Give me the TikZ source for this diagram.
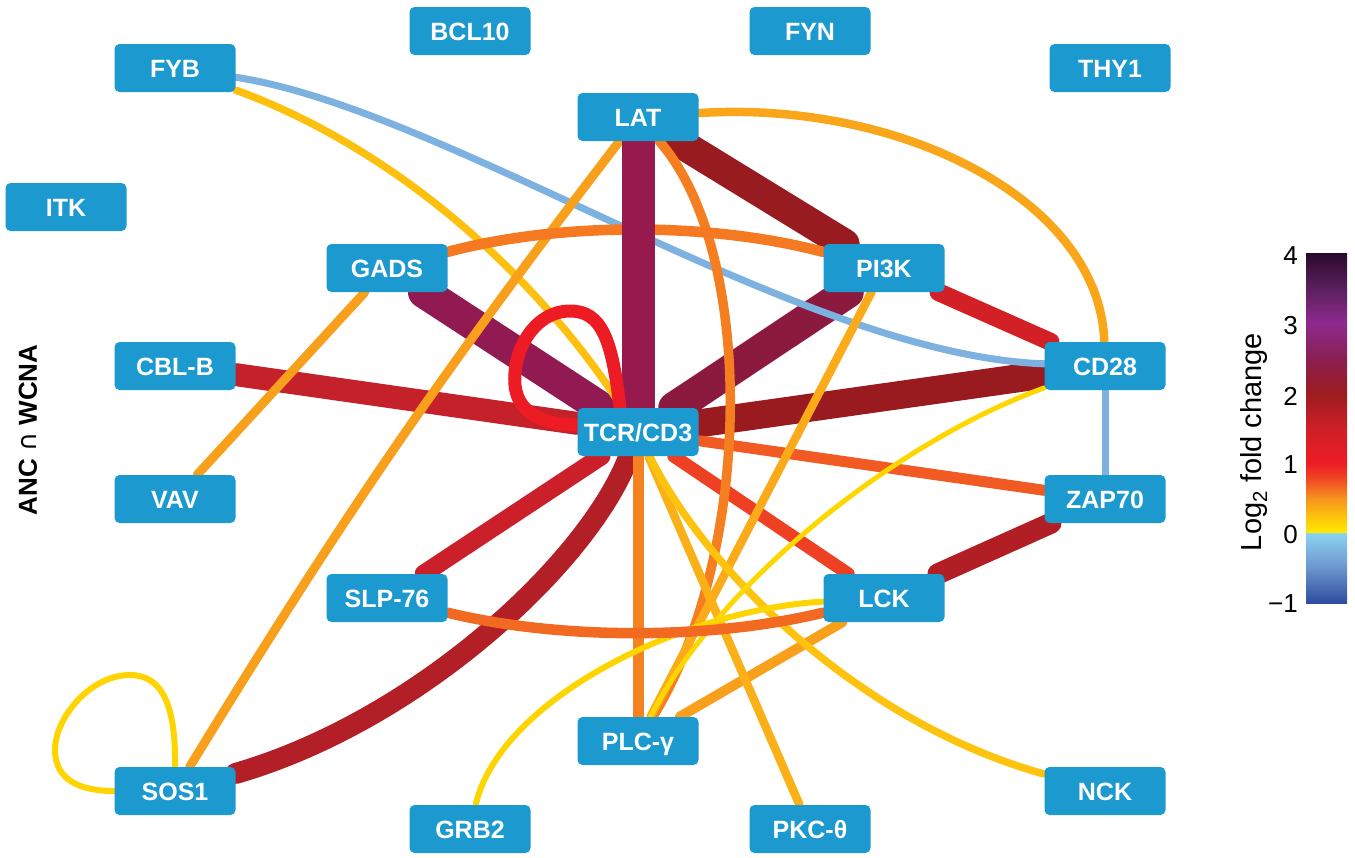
\documentclass[tikz,border=0pt]{standalone}
\usepackage{fontspec}
\setmainfont{Liberation Sans}
\newfontfamily\djv{DejaVu Sans}
\pgfdeclarelayer{bg}
\pgfsetlayers{bg,main}
\definecolor{nodeblue}{HTML}{1C9AD0}
\definecolor{cLATTCR}{HTML}{961A4E}
\definecolor{cGADSTCR}{HTML}{921A52}
\definecolor{cPIKTCR}{HTML}{8C1A3E}
\definecolor{cLATPIK}{HTML}{981B1F}
\definecolor{cCDTCR}{HTML}{9A1B1F}
\definecolor{cCBLB}{HTML}{C5212A}
\definecolor{cSOSTCR}{HTML}{B31F26}
\definecolor{cSLPTCR}{HTML}{CB2029}
\definecolor{cZAPLCK}{HTML}{B11F24}
\definecolor{cPIKCD}{HTML}{D32027}
\definecolor{cLOOP}{HTML}{ED1C24}
\definecolor{cTCRLCK}{HTML}{EE4023}
\definecolor{cTCRZAP}{HTML}{F15A22}
\definecolor{cGADSPIK}{HTML}{F47920}
\definecolor{cSLPLCK}{HTML}{F26A21}
\definecolor{cTCRPLC}{HTML}{F58220}
\definecolor{cLATPLC}{HTML}{F47E20}
\definecolor{cLATSOS}{HTML}{F8A01B}
\definecolor{cGADSVAV}{HTML}{F8A01B}
\definecolor{cLATCD}{HTML}{FAA61A}
\definecolor{cPIKPLC}{HTML}{FBAA19}
\definecolor{cLCKPLC}{HTML}{F8A01B}
\definecolor{cTCRPKC}{HTML}{FBB017}
\definecolor{cTCRNCK}{HTML}{FDC30F}
\definecolor{cFYBTCR}{HTML}{FDC00F}
\definecolor{cBLUE}{HTML}{7DB2E0}
\definecolor{cCDPLC}{HTML}{FFD700}
\definecolor{cLCKGRB}{HTML}{FFD500}
\definecolor{cSOSLOOP}{HTML}{FFD400}
% colour bar stops
\definecolor{cb1}{HTML}{2A0A2C}
\definecolor{cb2}{HTML}{5A1F5E}
\definecolor{cb3}{HTML}{8E2A8E}
\definecolor{cb4}{HTML}{8A1F52}
\definecolor{cb5}{HTML}{9C1C1F}
\definecolor{cb6}{HTML}{CE2027}
\definecolor{cb7}{HTML}{ED1C24}
\definecolor{cb8}{HTML}{F04E23}
\definecolor{cb9}{HTML}{F7941D}
\definecolor{cb10}{HTML}{FDC00F}
\definecolor{cb11}{HTML}{FFEA00}
\definecolor{cb12}{HTML}{8CD3F0}
\definecolor{cb13}{HTML}{6B95CC}
\definecolor{cb14}{HTML}{2E4C9E}
\begin{document}
\begin{tikzpicture}[x=1pt,y=-1pt,
  prot/.style={fill=nodeblue, rounded corners=5pt, minimum width=121pt,
    minimum height=48pt, inner sep=0pt, text=white, text height=18pt, text depth=0pt,
    font=\fontsize{25}{30}\selectfont\bfseries},
  e/.style={line cap=round},
  ticklab/.style={anchor=east, inner sep=0pt, font=\fontsize{26}{30}\selectfont}
]
\useasboundingbox (0,0) rectangle (1355,857);

% nodes
\node[prot] (fyb) at (175,68) {FYB};
\node[prot] (bcl) at (470,31) {BCL10};
\node[prot] (fyn) at (810,31) {FYN};
\node[prot] (thy) at (1110,68) {THY1};
\node[prot] (lat) at (638,117) {LAT};
\node[prot] (itk) at (66,207) {ITK};
\node[prot] (gads) at (387,268) {GADS};
\node[prot] (pik) at (884,268) {PI3K};
\node[prot] (cblb) at (175,366) {CBL-B};
\node[prot] (cd28) at (1105,366) {CD28};
\node[prot] (tcr) at (638,432) {TCR/CD3};
\node[prot] (vav) at (175,499) {VAV};
\node[prot] (zap) at (1105,499) {ZAP70};
\node[prot] (slp) at (387,598) {SLP-76};
\node[prot] (lck) at (884,598) {LCK};
\node[prot] (plc) at (638,741) {PLC-γ};
\node[prot] (sos) at (175,791) {SOS1};
\node[prot] (grb) at (470,829) {GRB2};
\node[prot] (pkc) at (810,829) {PKC-θ};
\node[prot] (nck) at (1105,791) {NCK};

\begin{pgfonlayer}{bg}
% thick bands
\draw[e, cSOSTCR, line width=21pt] (sos) .. controls (420,720) and (590,560) .. (tcr);
\draw[e, cCBLB, line width=23pt] (cblb) -- (tcr);
\draw[e, cSLPTCR, line width=18pt] (slp) -- (tcr);
\draw[e, cPIKCD, line width=18pt] (pik) -- (cd28);
\draw[e, cZAPLCK, line width=21pt] (zap) -- (lck);
\draw[e, cLATPIK, line width=30pt] (lat) -- (pik);
\draw[e, cPIKTCR, line width=32pt] (pik) -- (tcr);
\draw[e, cCDTCR, line width=28pt] (cd28) -- (tcr);
\draw[e, cGADSTCR, line width=32pt] (gads) -- (tcr);
\draw[e, cTCRLCK, line width=13pt] (tcr) -- (lck);
\draw[e, cTCRZAP, line width=11pt] (tcr) -- (zap);
% thinner links
\draw[e, cBLUE, line width=7pt] (fyb) .. controls (450,110) and (800,355) .. (cd28);
\draw[e, cFYBTCR, line width=7.5pt] (fyb) .. controls (400,150) and (540,280) .. (tcr);
\draw[e, cLATCD, line width=8.5pt] (lat) .. controls (900,100) and (1100,200) .. (cd28);
\draw[e, cLATSOS, line width=9pt] (lat) to[bend right=3] (sos);
\draw[e, cGADSVAV, line width=9pt] (gads) -- (vav);
\draw[e, cBLUE, line width=7pt] (cd28) -- (zap);
\draw[e, cTCRPLC, line width=11pt] (tcr) -- (plc);
\draw[e, cLATPLC, line width=9.5pt] (lat) .. controls (755,250) and (755,550) .. (plc);
\draw[e, cPIKPLC, line width=8.5pt] (pik) -- (plc);
\draw[e, cLCKPLC, line width=10pt] (lck) -- (plc);
\draw[e, cTCRPKC, line width=8.5pt] (tcr) -- (pkc);
\draw[e, cTCRNCK, line width=7.5pt] (tcr) .. controls (700,560) and (850,720) .. (nck);
\draw[e, cCDPLC, line width=5pt] (cd28) .. controls (900,440) and (720,580) .. (plc);
\draw[e, cLCKGRB, line width=6pt] (lck) .. controls (680,610) and (500,700) .. (grb);
\draw[e, cGADSPIK, line width=10.5pt] (gads) .. controls (560,222) and (710,222) .. (pik);
\draw[e, cSLPLCK, line width=10.5pt] (slp) .. controls (560,640) and (710,640) .. (lck);
% LAT - TCR/CD3 bar
\draw[e, cLATTCR, line width=33pt] (lat) -- (tcr);
% self loops
\draw[e, cLOOP, line width=13pt] ([xshift=-18pt]tcr.north) .. controls (612,340) and (602,311) .. (570,311)
  .. controls (535,311) and (512,350) .. (515,385) .. controls (518,417) and (550,425) .. ([yshift=7pt]tcr.west);
\draw[e, cSOSLOOP, line width=6pt] (sos.north) .. controls (176,705) and (162,675) .. (130,675)
  .. controls (90,675) and (55,718) .. (55,750) .. controls (55,780) and (80,791) .. (sos.west);
\end{pgfonlayer}

% colour bar
\shade[top color=cb1, bottom color=cb2] (1306,253) rectangle (1347,288.5);
\shade[top color=cb2, bottom color=cb3] (1306,288) rectangle (1347,323.5);
\shade[top color=cb3, bottom color=cb4] (1306,323) rectangle (1347,358.5);
\shade[top color=cb4, bottom color=cb5] (1306,358) rectangle (1347,393.5);
\shade[top color=cb5, bottom color=cb6] (1306,393) rectangle (1347,428.5);
\shade[top color=cb6, bottom color=cb7] (1306,428) rectangle (1347,463.5);
\shade[top color=cb7, bottom color=cb8] (1306,463) rectangle (1347,481);
\shade[top color=cb8, bottom color=cb9] (1306,480.5) rectangle (1347,498.5);
\shade[top color=cb9, bottom color=cb10] (1306,498) rectangle (1347,516);
\shade[top color=cb10, bottom color=cb11] (1306,515.5) rectangle (1347,533);
\shade[top color=cb12, bottom color=cb13] (1306,533) rectangle (1347,568.5);
\shade[top color=cb13, bottom color=cb14] (1306,568) rectangle (1347,603);
\node[ticklab] (t4) at (1298,256) {4};
\node[ticklab] (t3) at (1298,326) {3};
\node[ticklab] (t2) at (1298,396) {2};
\node[ticklab] (t1) at (1298,465) {1};
\node[ticklab] (t0) at (1298,535) {0};
\node[ticklab] (tm1) at (1298,604) {−1};
\node[rotate=90, inner sep=0pt, font=\fontsize{29}{32}\selectfont] (cbl) at (1254,442) {Log\textsubscript{2} fold change};
\node[rotate=90, inner sep=0pt, font=\fontsize{26}{30}\selectfont\bfseries] (anc) at (28,430) {ANC {\djv\mdseries ∩} WCNA};
\end{tikzpicture}
\end{document}
